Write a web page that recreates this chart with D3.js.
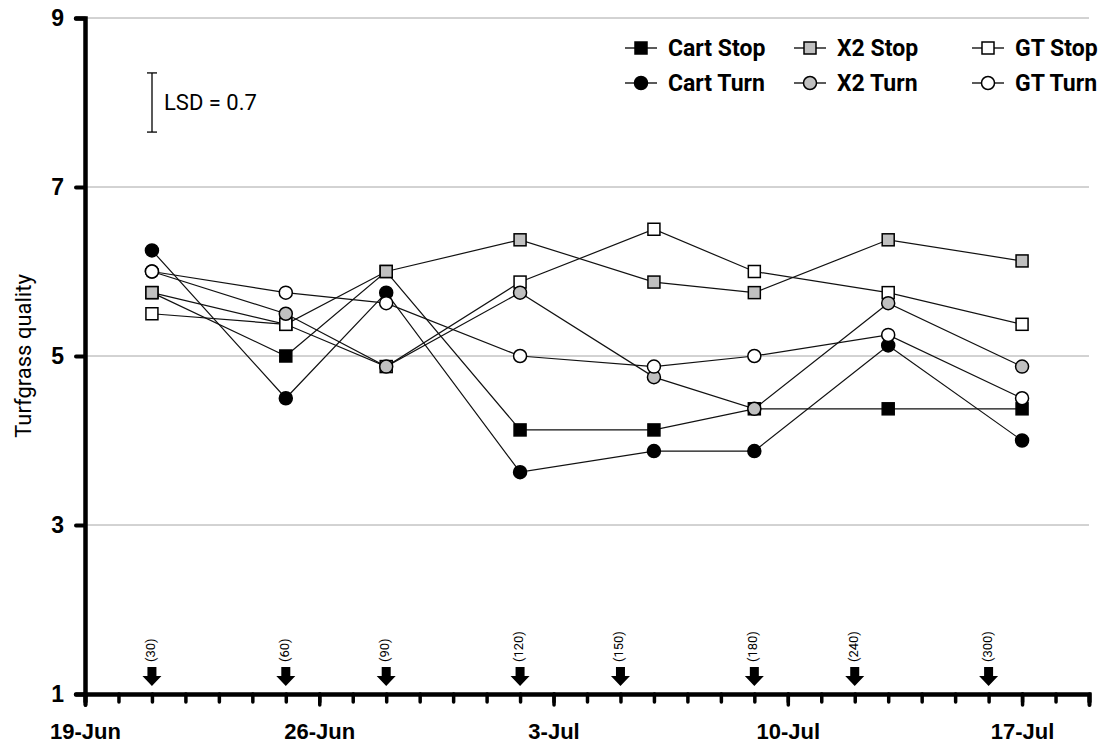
<!DOCTYPE html>
<html>
<head>
<meta charset="utf-8">
<script src="https://cdn.jsdelivr.net/npm/d3@7"></script>
<style>
  body { margin: 0; background: #fff; }
  svg { font-family: Roboto, "Liberation Sans", sans-serif; }
</style>
</head>
<body>
<svg id="chart" width="1113" height="746" viewBox="0 0 1113 746"></svg>
<script>
// sampling dates and the mean quality rating for each treatment
const dates = ["2003-06-21", "2003-06-25", "2003-06-28", "2003-07-02", "2003-07-06", "2003-07-09", "2003-07-13", "2003-07-17"];
const cartStop = [5.75, 5.0, 6.0, 4.125, 4.125, 4.375, 4.375, 4.375];
const x2Stop = [5.75, 5.375, 6.0, 6.375, 5.875, 5.75, 6.375, 6.125];
const gtStop = [5.5, 5.375, 4.875, 5.875, 6.5, 6.0, 5.75, 5.375];
const cartTurn = [6.25, 4.5, 5.75, 3.625, 3.875, 3.875, 5.125, 4.0];
const x2Turn = [6.0, 5.5, 4.875, 5.75, 4.75, 4.375, 5.625, 4.875];
const gtTurn = [6.0, 5.75, 5.625, 5.0, 4.875, 5.0, 5.25, 4.5];

// traffic events (arrows) and cumulative passes
const trafficDates = ["2003-06-21", "2003-06-25", "2003-06-28", "2003-07-02", "2003-07-05", "2003-07-09", "2003-07-12", "2003-07-16"];
const trafficLabels = ["(30)", "(60)", "(90)", "(120)", "(150)", "(180)", "(240)", "(300)"];

const yTicks = [1, 3, 5, 7, 9];
const lsd = 0.7;

const series = [
  { name: "Cart Stop", values: cartStop, shape: "square", fill: "#000" },
  { name: "X2 Stop", values: x2Stop, shape: "square", fill: "#c0c0c0" },
  { name: "GT Stop", values: gtStop, shape: "square", fill: "#fff" },
  { name: "Cart Turn", values: cartTurn, shape: "circle", fill: "#000" },
  { name: "X2 Turn", values: x2Turn, shape: "circle", fill: "#c0c0c0" },
  { name: "GT Turn", values: gtTurn, shape: "circle", fill: "#fff" }
];

const parse = d3.utcParse("%Y-%m-%d");
const svg = d3.select("#chart");

const margin = { top: 18, left: 85, right: 24, bottom: 52 };
const width = 1113, height = 746;

const x = d3.scaleUtc()
  .domain([Date.UTC(2003, 5, 19), Date.UTC(2003, 6, 19)])
  .range([margin.left, width - margin.right]);

const y = d3.scaleLinear()
  .domain([1, 9])
  .range([height - margin.bottom, margin.top]);

// gridlines
svg.append("g")
  .selectAll("line")
  .data(yTicks.filter((d) => d > 1))
  .enter()
  .append("line")
  .attr("x1", x.range()[0])
  .attr("x2", x.range()[1])
  .attr("y1", (d) => y(d))
  .attr("y2", (d) => y(d))
  .attr("stroke", "#a6a6a6")
  .attr("stroke-width", 1);

// x axis: daily minor ticks, weekly labels
const dayTicks = d3.utcDay.range(x.domain()[0], d3.utcDay.offset(x.domain()[1], 1));
const weekTicks = dayTicks.filter((d, i) => i % 7 === 0);

const xMinor = svg.append("g")
  .attr("transform", `translate(0 ${y(1)})`)
  .call(d3.axisBottom(x).tickValues(dayTicks).tickSize(8).tickFormat(""));

const xMajor = svg.append("g")
  .attr("transform", `translate(0 ${y(1)})`)
  .call(d3.axisBottom(x).tickValues(weekTicks).tickSize(11).tickPadding(18)
    .tickFormat(d3.utcFormat("%-d-%b")));

[xMinor, xMajor].forEach((g) => {
  g.select(".domain").attr("stroke", "#000").attr("stroke-width", 4).attr("stroke-linecap", "round");
  g.selectAll(".tick line").attr("stroke", "#000").attr("stroke-width", 3.5).attr("stroke-linecap", "round");
});
xMajor.selectAll(".tick text")
  .attr("fill", "#000")
  .style("font-size", "22px")
  .style("font-weight", "bold");

// y axis
const yAxisG = svg.append("g")
  .attr("transform", `translate(${margin.left} 0)`)
  .call(d3.axisLeft(y).tickValues(yTicks).tickSize(9).tickPadding(12));

yAxisG.select(".domain").attr("stroke", "#000").attr("stroke-width", 4.5).attr("stroke-linecap", "round");
yAxisG.selectAll(".tick line").attr("stroke", "#000").attr("stroke-width", 4).attr("stroke-linecap", "round");
yAxisG.selectAll(".tick text")
  .attr("fill", "#000")
  .style("font-size", "23px")
  .style("font-weight", "bold");

svg.append("text")
  .attr("transform", `translate(31 ${y(5)}) rotate(-90)`)
  .attr("text-anchor", "middle")
  .style("font-size", "22px")
  .text("Turfgrass quality");

// lines and markers
const line = d3.line()
  .x((d, i) => x(parse(dates[i])))
  .y((d) => y(d));

const seriesG = svg.append("g");

series.forEach((s) => {
  seriesG.append("path")
    .attr("d", line(s.values))
    .attr("fill", "none")
    .attr("stroke", "#111")
    .attr("stroke-width", 1.2);
});

function drawMarker(g, shape, fill, cx, cy) {
  if (shape === "square") {
    g.append("rect")
      .attr("x", cx - 6).attr("y", cy - 6)
      .attr("width", 12).attr("height", 12)
      .attr("fill", fill).attr("stroke", "#000").attr("stroke-width", 1.5);
  } else {
    g.append("circle")
      .attr("cx", cx).attr("cy", cy).attr("r", 6.5)
      .attr("fill", fill).attr("stroke", "#000").attr("stroke-width", 1.5);
  }
}

series.forEach((s) => {
  s.values.forEach((v, i) => drawMarker(seriesG, s.shape, s.fill, x(parse(dates[i])), y(v)));
});

// traffic arrows
const arrowG = svg.append("g")
  .selectAll("g")
  .data(trafficDates)
  .enter()
  .append("g")
  .attr("transform", (d) => `translate(${x(parse(d))} ${y(1) - 8})`);

arrowG.append("path")
  .attr("d", "M-4.5,-19 L4.5,-19 L4.5,-10 L9.5,-10 L0,0 L-9.5,-10 L-4.5,-10 Z")
  .attr("fill", "#000");

arrowG.append("text")
  .attr("transform", "translate(3 -24) rotate(-90)")
  .attr("text-anchor", "start")
  .style("font-size", "13px")
  .text((d, i) => trafficLabels[i]);

// LSD bar
const lsdX = 152;
const lsdTop = y(8.35);
const lsdBottom = y(8.35 - lsd);
const lsdG = svg.append("g").attr("stroke", "#000").attr("stroke-width", 1.3);
lsdG.append("line").attr("x1", lsdX).attr("x2", lsdX).attr("y1", lsdTop).attr("y2", lsdBottom);
lsdG.append("line").attr("x1", lsdX - 5).attr("x2", lsdX + 5).attr("y1", lsdTop).attr("y2", lsdTop);
lsdG.append("line").attr("x1", lsdX - 5).attr("x2", lsdX + 5).attr("y1", lsdBottom).attr("y2", lsdBottom);
svg.append("text")
  .attr("x", 164)
  .attr("y", (lsdTop + lsdBottom) / 2)
  .attr("dy", "0.36em")
  .style("font-size", "22px")
  .text(`LSD = ${lsd}`);

// legend: three columns, two rows
const legendCols = [625, 794, 972];
const legendRows = [48, 83];
const legend = svg.append("g")
  .selectAll("g")
  .data(series)
  .enter()
  .append("g")
  .attr("transform", (d, i) => `translate(${legendCols[i % 3]} ${legendRows[Math.floor(i / 3)]})`);

legend.append("line")
  .attr("x1", 0).attr("x2", 32)
  .attr("stroke", "#000").attr("stroke-width", 1.3);

legend.each(function (d) {
  drawMarker(d3.select(this), d.shape, d.fill, 16, 0);
});

legend.append("text")
  .attr("x", 43)
  .attr("dy", "0.36em")
  .style("font-size", "23px")
  .style("font-weight", "bold")
  .text((d) => d.name);
</script>
</body>
</html>
